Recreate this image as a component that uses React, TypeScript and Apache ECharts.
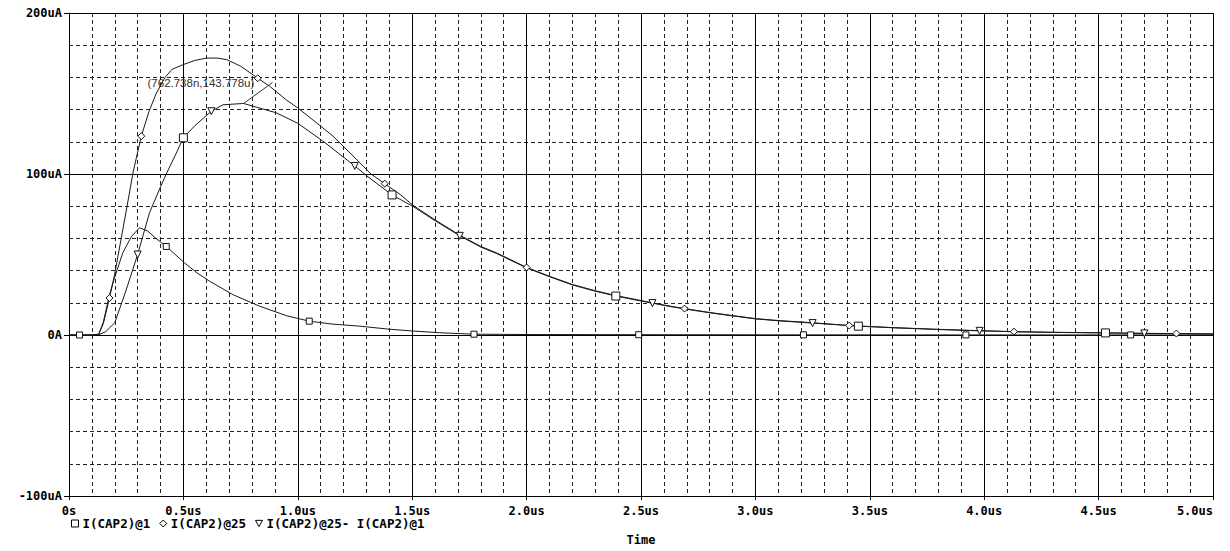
import React, { useEffect, useRef } from "react";
import * as echarts from "echarts";

const seriesNames = ["I(CAP2)@1", "I(CAP2)@25", "I(CAP2)@25- I(CAP2)@1"];

// time (us), current (uA)
const run1: [number, number][] = [
  [0, 0], [0.046, 0], [0.1, 0], [0.13, 0.5], [0.15, 8], [0.177, 25], [0.2, 36], [0.235, 51],
  [0.272, 61], [0.308, 66.6], [0.345, 64.5], [0.38, 60], [0.425, 55], [0.505, 44.8], [0.56, 38.5],
  [0.615, 33.4], [0.717, 25], [0.833, 17.9], [0.95, 12], [1.05, 8.6], [1.15, 6.8], [1.27, 5.5],
  [1.4, 3.6], [1.5, 2.5], [1.62, 1.4], [1.77, 0.5], [2.0, 0.3], [2.49, 0.2], [3.21, 0.1],
  [3.92, 0.05], [4.64, 0.03], [5.0, 0.02],
];

const run25: [number, number][] = [
  [0, 0], [0.1, 0], [0.13, 0.5], [0.15, 7], [0.177, 23], [0.2, 38], [0.25, 77], [0.28, 101],
  [0.316, 123.5], [0.35, 139], [0.381, 150], [0.42, 160], [0.45, 165], [0.5, 168], [0.55, 170.5],
  [0.6, 172], [0.65, 172], [0.69, 171], [0.75, 167], [0.8, 162], [0.825, 159.5], [0.877, 154.5],
  [0.95, 146], [1.0, 141], [1.08, 132], [1.154, 123.5], [1.25, 110], [1.32, 100], [1.38, 94],
  [1.45, 87], [1.504, 80.5], [1.6, 71.5], [1.708, 62], [1.8, 55], [1.869, 51], [2.0, 42],
  [2.1, 36.5], [2.2, 31.4], [2.3, 27.5], [2.39, 24.5], [2.5, 21.4], [2.6, 18.6], [2.69, 16.4],
  [2.8, 14], [2.92, 11.7], [3.0, 10.2], [3.1, 9], [3.25, 7.6], [3.41, 5.9], [3.6, 4.6],
  [3.82, 3.4], [3.98, 2.7], [4.13, 2.1], [4.3, 1.7], [4.49, 1.4], [4.7, 1.0], [4.84, 0.9],
  [5.0, 0.7],
];

const diff: [number, number][] = [
  [0, 0], [0.1, 0], [0.13, 0.2], [0.16, 2], [0.2, 7.6], [0.25, 28], [0.3, 50], [0.352, 76],
  [0.4, 92], [0.425, 100], [0.469, 113], [0.5, 122.5], [0.55, 130], [0.622, 139], [0.673, 143],
  [0.7627, 143.8], [0.82, 141.5], [0.906, 138], [1.0, 131.5], [1.11, 120.4], [1.249, 105],
  [1.3, 99], [1.412, 87], [1.504, 79.8], [1.6, 71], [1.708, 61.6], [1.8, 54.6], [1.869, 50.6],
  [2.0, 41.7], [2.1, 36.2], [2.2, 31.1], [2.3, 27.2], [2.39, 24.2], [2.5, 21.1], [2.55, 19.8],
  [2.6, 18.4], [2.69, 16.2], [2.8, 13.8], [2.92, 11.5], [3.0, 10.0], [3.1, 8.8], [3.25, 7.4],
  [3.45, 5.5], [3.6, 4.5], [3.82, 3.3], [3.98, 2.6], [4.13, 2.0], [4.3, 1.6], [4.53, 1.3],
  [4.7, 1.0], [4.84, 0.8], [5.0, 0.6],
];

const run1Marks = [0.046, 0.425, 1.05, 1.77, 2.49, 3.21, 3.92, 4.64];
const run25Marks = [0.177, 0.316, 0.825, 1.38, 2.0, 2.69, 3.41, 4.13, 4.84];
const diffTriMarks = [0.3, 0.622, 1.249, 1.708, 2.55, 3.25, 3.98, 4.7];
const diffSqMarks = [0.5, 1.412, 2.39, 3.45, 4.53];

const cursorPoint = { t: 0.762738, v: 143.778, label: "(762.738n,143.778u)" };

const MONO = "'DejaVu Sans Mono', 'Liberation Mono', monospace";
const TRI_DOWN = "path://M0,0L10,0L5,9Z";

const markerStyle = { color: "#fff", borderColor: "#111", borderWidth: 1 };

function buildData(points: [number, number][], marks: { times: number[]; symbol: string; size: number }[]) {
  return points.map(([t, v]) => {
    const m = marks.find((mk) => mk.times.some((x) => Math.abs(x - t) < 1e-9));
    if (m) {
      return { value: [t, v], symbol: m.symbol, symbolSize: m.size, itemStyle: markerStyle };
    }
    return { value: [t, v], symbol: "none" };
  });
}

export default function App() {
  const ref = useRef<HTMLDivElement>(null);
  useEffect(() => {
    if (!ref.current) return;
    const chart = echarts.init(ref.current, undefined, { renderer: "svg", width: 1230, height: 551 });
    const lineBase = {
      type: "line" as const,
      showSymbol: true,
      showAllSymbol: true,
      smooth: false,
      silent: true,
      lineStyle: { color: "#1a1a1a", width: 1 },
      itemStyle: markerStyle,
      emphasis: { disabled: true },
    };
    chart.setOption({
      animation: false,
      backgroundColor: "#ffffff",
      grid: { left: 69, right: 17, top: 13, bottom: 55, containLabel: false },
      legend: {
        left: 71,
        top: 517,
        padding: 0,
        itemWidth: 7,
        itemHeight: 7,
        itemGap: 9,
        selectedMode: false,
        itemStyle: { color: "#fff", borderColor: "#000", borderWidth: 1 },
        textStyle: { fontFamily: MONO, fontWeight: "bold", fontSize: 12.5, color: "#000", padding: [0, 0, 0, -1] },
        data: [
          { name: seriesNames[0], icon: "rect" },
          { name: seriesNames[1], icon: "diamond" },
          { name: seriesNames[2], icon: TRI_DOWN },
        ],
      },
      xAxis: {
        type: "value",
        min: 0,
        max: 5,
        interval: 0.5,
        name: "Time",
        nameLocation: "middle",
        nameGap: 38,
        nameTextStyle: { fontFamily: MONO, fontWeight: "bold", fontSize: 12, color: "#000" },
        axisLine: { show: true, onZero: false, lineStyle: { color: "#000", width: 1 } },
        axisTick: { show: true, length: 4, inside: false, lineStyle: { color: "#000" } },
        axisLabel: {
          margin: 9,
          fontFamily: MONO,
          fontWeight: "bold",
          fontSize: 12,
          color: "#000",
          alignMaxLabel: "right",
          formatter: (v: number) => (v === 0 ? "0s" : v.toFixed(1) + "us"),
        },
        splitLine: { show: true, lineStyle: { color: "#000", width: 1, type: "solid" } },
        minorTick: { show: false, splitNumber: 5 },
        minorSplitLine: { show: true, lineStyle: { color: "#222", width: 1, type: [4, 3] } },
      },
      yAxis: {
        type: "value",
        min: -100,
        max: 200,
        interval: 100,
        axisLine: { show: true, onZero: false, lineStyle: { color: "#000", width: 1 } },
        axisTick: { show: true, length: 5, inside: false, lineStyle: { color: "#000" } },
        axisLabel: {
          margin: 7,
          fontFamily: MONO,
          fontWeight: "bold",
          fontSize: 12,
          color: "#000",
          formatter: (v: number) => (v === 0 ? "0A" : v + "uA"),
        },
        splitLine: { show: true, lineStyle: { color: "#000", width: 1, type: "solid" } },
        minorTick: { show: false, splitNumber: 5 },
        minorSplitLine: { show: true, lineStyle: { color: "#222", width: 1, type: [4, 3] } },
      },
      series: [
        {
          ...lineBase,
          name: seriesNames[0],
          data: buildData(run1, [{ times: run1Marks, symbol: "rect", size: 6 }]),
        },
        {
          ...lineBase,
          name: seriesNames[1],
          data: buildData(run25, [{ times: run25Marks, symbol: "diamond", size: 7 }]),
        },
        {
          ...lineBase,
          name: seriesNames[2],
          data: buildData(diff, [
            { times: diffSqMarks, symbol: "rect", size: 8 },
            { times: diffTriMarks, symbol: TRI_DOWN, size: 7 },
          ]),
        },
      ],
    });
    const p = chart.convertToPixel({ gridIndex: 0 }, [cursorPoint.t, cursorPoint.v]) as number[];
    chart.setOption({
      graphic: [
        {
          type: "text",
          x: p[0] - 96,
          y: p[1] - 21,
          silent: true,
          style: {
            text: cursorPoint.label,
            font: "11.5px 'Liberation Sans', Arial, sans-serif",
            fill: "#333",
            verticalAlign: "middle",
            align: "left",
          },
        },
        {
          type: "line",
          silent: true,
          shape: { x1: p[0], y1: p[1], x2: p[0] + 29, y2: p[1] - 21 },
          style: { stroke: "#333", lineWidth: 1 },
        },
      ],
    });
    return () => chart.dispose();
  }, []);
  return (
    <div
      ref={ref}
      style={{ position: "fixed", left: 0, top: 0, width: 1230, height: 551, background: "#fff" }}
    />
  );
}
